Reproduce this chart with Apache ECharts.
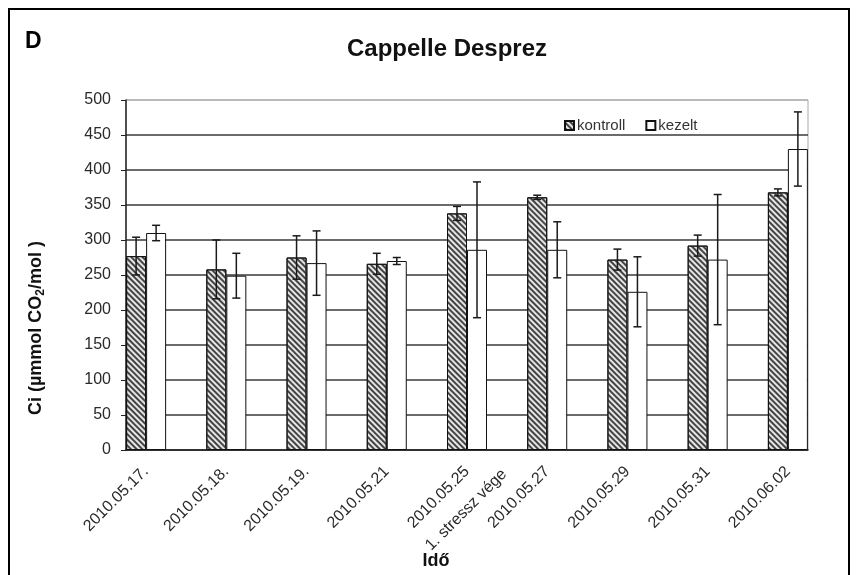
<!DOCTYPE html>
<html>
<head>
<meta charset="utf-8">
<script src="https://cdn.jsdelivr.net/npm/echarts@6/dist/echarts.min.js"></script>
<style>
  html, body { margin: 0; padding: 0; background: #fff; }
  #chart { width: 857px; height: 575px; }
</style>
</head>
<body>
<div id="chart"></div>
<script>
// dates on the x axis, plus the note that sits between 05.25 and 05.27
const categories = ['2010.05.17.', '2010.05.18.', '2010.05.19.', '2010.05.21', '2010.05.25',
                    '2010.05.27', '2010.05.29', '2010.05.31', '2010.06.02']
const stressNote = '1. stressz vége'
const stressAfter = 4

// Ci values and their error (± half range)
const kontroll    = [277, 258, 275, 266, 338, 361, 272, 292, 368]
const kontrollErr = [27, 42, 31, 15, 10, 3, 15, 15, 5]
const kezelt      = [310, 249, 267, 270, 286, 286, 226, 272, 430]
const kezeltErr   = [11, 32, 46, 5, 97, 40, 50, 93, 53]

const yMin = 0, yMax = 500, yStep = 50

// frame axis has two slots per date, last one dropped (bars end at the right edge)
const slots = []
for (let k = 0; k < categories.length * 2 - 1; k++) {
    if (k % 2 === 0) slots.push(categories[k / 2])
    else if (k === stressAfter * 2 + 1) slots.push({ value: stressNote, textStyle: { padding: [8, 4, 0, 0] } })
    else slots.push('')
}

const FONT = 'Liberation Sans, Arial, sans-serif'

function errorBar(shift) {
    return function (params, api) {
        const i = api.value(0)
        const hi = api.coord([i, api.value(1)])
        const lo = api.coord([i, api.value(2)])
        const x = hi[0] + shift
        const st = { stroke: '#1a1a1a', lineWidth: 1.5 }
        return {
            type: 'group',
            children: [
                { type: 'line', shape: { x1: x, y1: hi[1], x2: x, y2: lo[1] }, style: st },
                { type: 'line', shape: { x1: x - 4, y1: hi[1], x2: x + 4, y2: hi[1] }, style: st },
                { type: 'line', shape: { x1: x - 4, y1: lo[1], x2: x + 4, y2: lo[1] }, style: st }
            ]
        }
    }
}

const splitColors = []
for (let v = yMin; v <= yMax; v += yStep) splitColors.push(v === yMax ? '#b0b0b0' : '#3a3a3a')

const chart = echarts.init(document.getElementById('chart'), null, { renderer: 'canvas' })

chart.setOption({
    animation: false,
    backgroundColor: '#fff',
    textStyle: { fontFamily: FONT },
    title: [
        { text: 'D', left: 20, top: 25, textStyle: { fontSize: 23, fontWeight: 'bold', color: '#000', fontFamily: FONT } },
        { text: 'Cappelle Desprez', left: 442, top: 32, textAlign: 'center',
          textStyle: { fontSize: 24, fontWeight: 'bold', color: '#111', fontFamily: FONT } }
    ],
    legend: {
        data: ['kontroll', 'kezelt'],
        left: 559, top: 113,
        icon: 'rect', itemWidth: 9, itemHeight: 9, itemGap: 20,
        textStyle: { fontSize: 15, color: '#333', fontFamily: FONT, padding: [0, 0, 0, -2] }
    },
    grid: [
        { left: 126, right: 49, top: 100, bottom: 125, show: true, borderColor: '#a8a8a8', borderWidth: 1 },
        { left: 106, right: 29, top: 100, bottom: 125 }
    ],
    xAxis: [
        {
            gridIndex: 0, type: 'category', data: slots, boundaryGap: true,
            axisLine: { lineStyle: { color: '#222', width: 1.5 } },
            axisTick: { interval: 0, length: 5, lineStyle: { color: '#222', width: 1.5 } },
            axisLabel: { interval: 0, rotate: 45, margin: 19, fontSize: 16, color: '#2a2a2a', fontFamily: FONT },
            splitLine: { show: false }
        },
        { gridIndex: 1, type: 'category', data: categories, show: false }
    ],
    yAxis: [
        {
            gridIndex: 0, type: 'value', min: yMin, max: yMax, interval: yStep,
            axisLine: { show: true, lineStyle: { color: '#222', width: 1.5 } },
            axisTick: { show: true, length: 5, lineStyle: { color: '#222' } },
            axisLabel: { margin: 15, fontSize: 16, color: '#2a2a2a', fontFamily: FONT },
            splitLine: { show: true, lineStyle: { color: splitColors, width: 1.5 } }
        },
        { gridIndex: 1, type: 'value', min: yMin, max: yMax, interval: yStep, show: false, splitLine: { show: false } }
    ],
    series: [
        {
            name: 'kontroll', type: 'bar', xAxisIndex: 1, yAxisIndex: 1,
            data: kontroll, barWidth: 20, barGap: '0%',
            itemStyle: {
                color: '#e6e6e6', borderColor: '#111', borderWidth: 1,
                decal: { symbol: 'rect', symbolSize: 1, dashArrayX: [1, 0], dashArrayY: [1.5, 2], rotation: Math.PI / 4, color: '#444' }
            }
        },
        {
            name: 'kezelt', type: 'bar', xAxisIndex: 1, yAxisIndex: 1,
            data: kezelt, barWidth: 20,
            itemStyle: { color: '#fff', borderColor: '#111', borderWidth: 1 }
        },
        {
            type: 'custom', xAxisIndex: 1, yAxisIndex: 1, z: 5,
            renderItem: errorBar(-10),
            encode: { x: 0, y: [1, 2] },
            data: kontroll.map((v, i) => [i, v + kontrollErr[i], v - kontrollErr[i]])
        },
        {
            type: 'custom', xAxisIndex: 1, yAxisIndex: 1, z: 5,
            renderItem: errorBar(10),
            encode: { x: 0, y: [1, 2] },
            data: kezelt.map((v, i) => [i, v + kezeltErr[i], v - kezeltErr[i]])
        }
    ],
    graphic: [
        { type: 'rect', shape: { x: 9, y: 9, width: 840, height: 620 }, style: { fill: null, stroke: '#000', lineWidth: 2 }, z: -1 },
        {
            type: 'text', x: 36, y: 328, rotation: Math.PI / 2,
            style: {
                text: '{a|Ci (µmmol CO}{s|2}{a|/mol )}',
                align: 'center', verticalAlign: 'middle',
                rich: {
                    a: { fontSize: 18, fontWeight: 'bold', fill: '#111', fontFamily: FONT, lineHeight: 22 },
                    s: { fontSize: 12, fontWeight: 'bold', fill: '#111', fontFamily: FONT, lineHeight: 22, verticalAlign: 'bottom', padding: [8, 0, 0, 0] }
                }
            }
        },
        {
            type: 'text', x: 436, y: 561,
            style: { text: 'Idő', align: 'center', verticalAlign: 'middle', fontSize: 18, fontWeight: 'bold', fill: '#111', fontFamily: FONT }
        }
    ]
})
</script>
</body>
</html>
